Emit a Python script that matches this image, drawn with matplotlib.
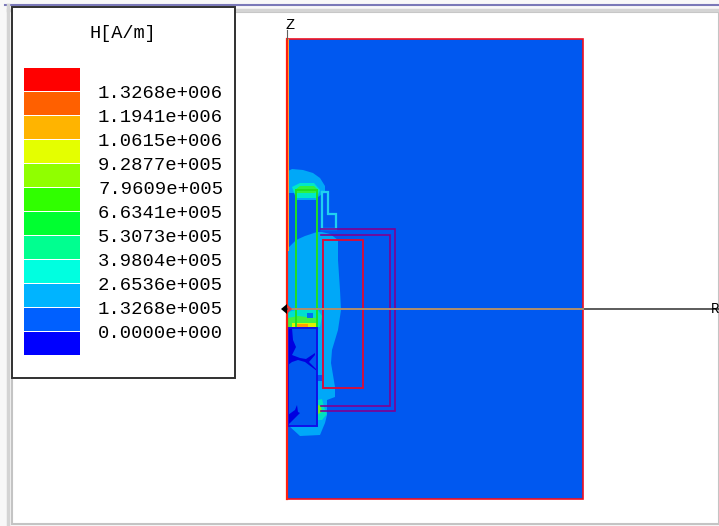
import matplotlib
matplotlib.use("Agg")
import matplotlib.pyplot as plt
from matplotlib.patches import Polygon, Rectangle

# legend
title = "H[A/m]"
levels = ["1.3268e+006", "1.1941e+006", "1.0615e+006", "9.2877e+005", "7.9609e+005", "6.6341e+005",
          "5.3073e+005", "3.9804e+005", "2.6536e+005", "1.3268e+005", "0.0000e+000"]
level_colors = ["#FF0000", "#FF6000", "#FFB400", "#E4FF00", "#90FF00", "#30FF00",
                "#00FF30", "#00FF90", "#00FFE0", "#00B4FF", "#0060FF", "#0000FF"]

# field regions, traced in picture pixels
lobe_light = [(288, 171), (292, 169), (303, 170), (313, 173), (320, 178), (325, 186), (325, 192), (318, 197),
              (317, 205), (316, 235), (296, 240), (288, 248)]
hole_a = [(288, 193), (296, 193), (296, 200), (317, 200), (317, 232), (305, 236), (296, 240), (288, 248)]
body_light = [(288, 248), (296, 240), (306, 236), (317, 232), (322, 232), (330, 234), (338, 240), (338, 260),
              (340, 290), (341, 310), (338, 330), (332, 350), (331, 363), (335, 387), (335, 397), (327, 400),
              (327, 415), (325, 423), (320, 435), (300, 436), (288, 425)]
top_cyan = [(292, 187), (300, 183), (314, 183), (320, 190), (317, 198), (296, 198)]
top_green = [(295, 190), (300, 186), (314, 186), (318, 190), (315, 193), (297, 193)]
neck_cyan = [(288, 312), (296, 310), (318, 310), (322, 316), (320, 327), (288, 327)]
neck_green = [(288, 318), (298, 316), (316, 318), (318, 327), (288, 327)]
neck_yellow = [(292, 323), (316, 323), (316, 327), (292, 327)]
neck_orange = [(296, 324), (308, 324), (308, 327), (296, 327)]
neck_hole = [(307, 313), (313, 313), (313, 318), (307, 318)]
corner_cyan = [(318, 400), (322, 399), (324, 407), (327, 414), (322, 420), (318, 420)]
corner_green = [(318, 405), (321, 406), (322, 412), (318, 414)]
side_patch = [(317, 375), (322, 375), (322, 381), (317, 381)]
lower_box = [(288, 328), (317, 328), (317, 426), (288, 426)]
navy_a = [(288, 328), (292, 328), (293, 340), (296, 347), (292, 355), (300, 358), (306, 359), (315, 353),
          (315, 355), (309, 362), (317, 370), (317, 371), (305, 362), (298, 360), (292, 362), (288, 365)]
navy_b = [(288, 425), (288, 415), (295, 410), (297, 405), (298, 412), (300, 413), (290, 423)]

# outlines
red_left = [(287, 39), (287, 499)]
outer_box = [(287, 39), (583, 39), (583, 499), (287, 499), (287, 39)]
green_box = [(296, 190), (317, 190), (317, 328), (296, 328), (296, 190)]
blue_box = [(288, 328), (317, 328), (317, 426), (288, 426), (288, 328)]
cyan_step = [(322, 192), (328, 192), (328, 214), (336, 214), (336, 229), (322, 229), (322, 192)]
purple_outer = [(321, 229), (395, 229), (395, 411), (321, 411)]
purple_inner = [(321, 235), (390, 235), (390, 406), (321, 406)]
red_inner = [(323, 240), (363, 240), (363, 388), (323, 388), (323, 240)]

fig = plt.figure(figsize=(7.19, 5.26), dpi=100)
ax = fig.add_axes([0, 0, 1, 1])
ax.set_xlim(0, 719)
ax.set_ylim(526, 0)
ax.axis("off")


def fill(pts, color, z):
    ax.add_patch(Polygon(pts, closed=True, fc=color, ec="none", zorder=z))


def path(pts, color, lw, z):
    ax.plot([p[0] for p in pts], [p[1] for p in pts], color=color, lw=lw, zorder=z, solid_joinstyle="miter")


# window frame
ax.add_patch(Rectangle((0, 0), 719, 526, fc="#F8F8F8", ec="none", zorder=0))
ax.add_patch(Rectangle((12, 12), 707, 512, fc="white", ec="#C4C4C4", lw=1.5, zorder=1))
ax.plot([5, 719], [5, 5], color="#7A78B8", lw=1.5, zorder=1)
ax.plot([8, 719], [10, 10], color="#D4D4D4", lw=2.5, zorder=1)
ax.plot([8, 8], [5, 526], color="#D4D4D4", lw=2.5, zorder=1)

# field
ax.add_patch(Rectangle((287, 39), 296, 460, fc="#0058F0", ec="none", zorder=2))
for pts in [lobe_light, body_light]:
    fill(pts, "#00A8F8", 3)
fill(hole_a, "#0058F0", 4)
fill(top_cyan, "#00E8C8", 5)
fill(top_green, "#30F040", 6)
fill(neck_cyan, "#00E0D0", 5)
fill(neck_green, "#40F040", 6)
fill(neck_yellow, "#E0F000", 7)
fill(neck_orange, "#FFA000", 8)
fill(neck_hole, "#0070F0", 8)
fill(corner_cyan, "#00E0C0", 5)
fill(corner_green, "#70F020", 6)
fill(side_patch, "#0058F0", 5)
fill(lower_box, "#0058F0", 9)
fill(navy_a, "#0000E0", 10)
fill(navy_b, "#0000E0", 10)

# outlines
path(green_box, "#20E020", 1.4, 12)
path(blue_box, "#1010E8", 1.4, 12)
path(cyan_step, "#20D0F0", 1.6, 12)
path(purple_outer, "#800090", 1.2, 12)
path(purple_inner, "#800090", 1.2, 12)
path(red_inner, "#D01040", 1.4, 12)
path(outer_box, "#F01020", 1.2, 13)
path(red_left, "#FF2010", 1.6, 13)
ax.plot([288, 288], [39, 250], color="#FFA030", lw=0.7, zorder=14)

# axes
ax.plot([286, 719], [309, 309], color="#404040", lw=1.2, zorder=14)
ax.plot([292, 583], [309, 309], color="#B09070", lw=1.4, zorder=15)
ax.plot([287, 287], [30, 39], color="#606060", lw=0.8, zorder=14)
ax.add_patch(Polygon([(281, 309), (287, 304), (287, 314)], fc="black", ec="none", zorder=16))
ax.add_patch(Polygon([(288, 305), (292, 309), (288, 313)], fc="#E04040", ec="none", zorder=16))
ax.text(290, 25, "Z", family="Liberation Mono", fontsize=11, ha="center", va="center", zorder=16)
ax.text(719, 309, "R", family="Liberation Mono", fontsize=10, ha="right", va="center", zorder=16)

# legend box
ax.add_patch(Rectangle((12, 7), 223, 371, fc="white", ec="#303030", lw=1.4, zorder=20))
ax.text(123, 33, title, family="Liberation Mono", fontsize=13.4, ha="center", va="center", zorder=21)
for i, c in enumerate(level_colors):
    ax.add_patch(Rectangle((24, 68 + 24 * i), 56, 22.5, fc=c, ec="none", zorder=21))
for i, lab in enumerate(levels):
    ax.text(98, 94 + 24 * i, lab, family="Liberation Mono", fontsize=13.6, ha="left", va="center", zorder=21)

fig.savefig("out.png", dpi=100)
